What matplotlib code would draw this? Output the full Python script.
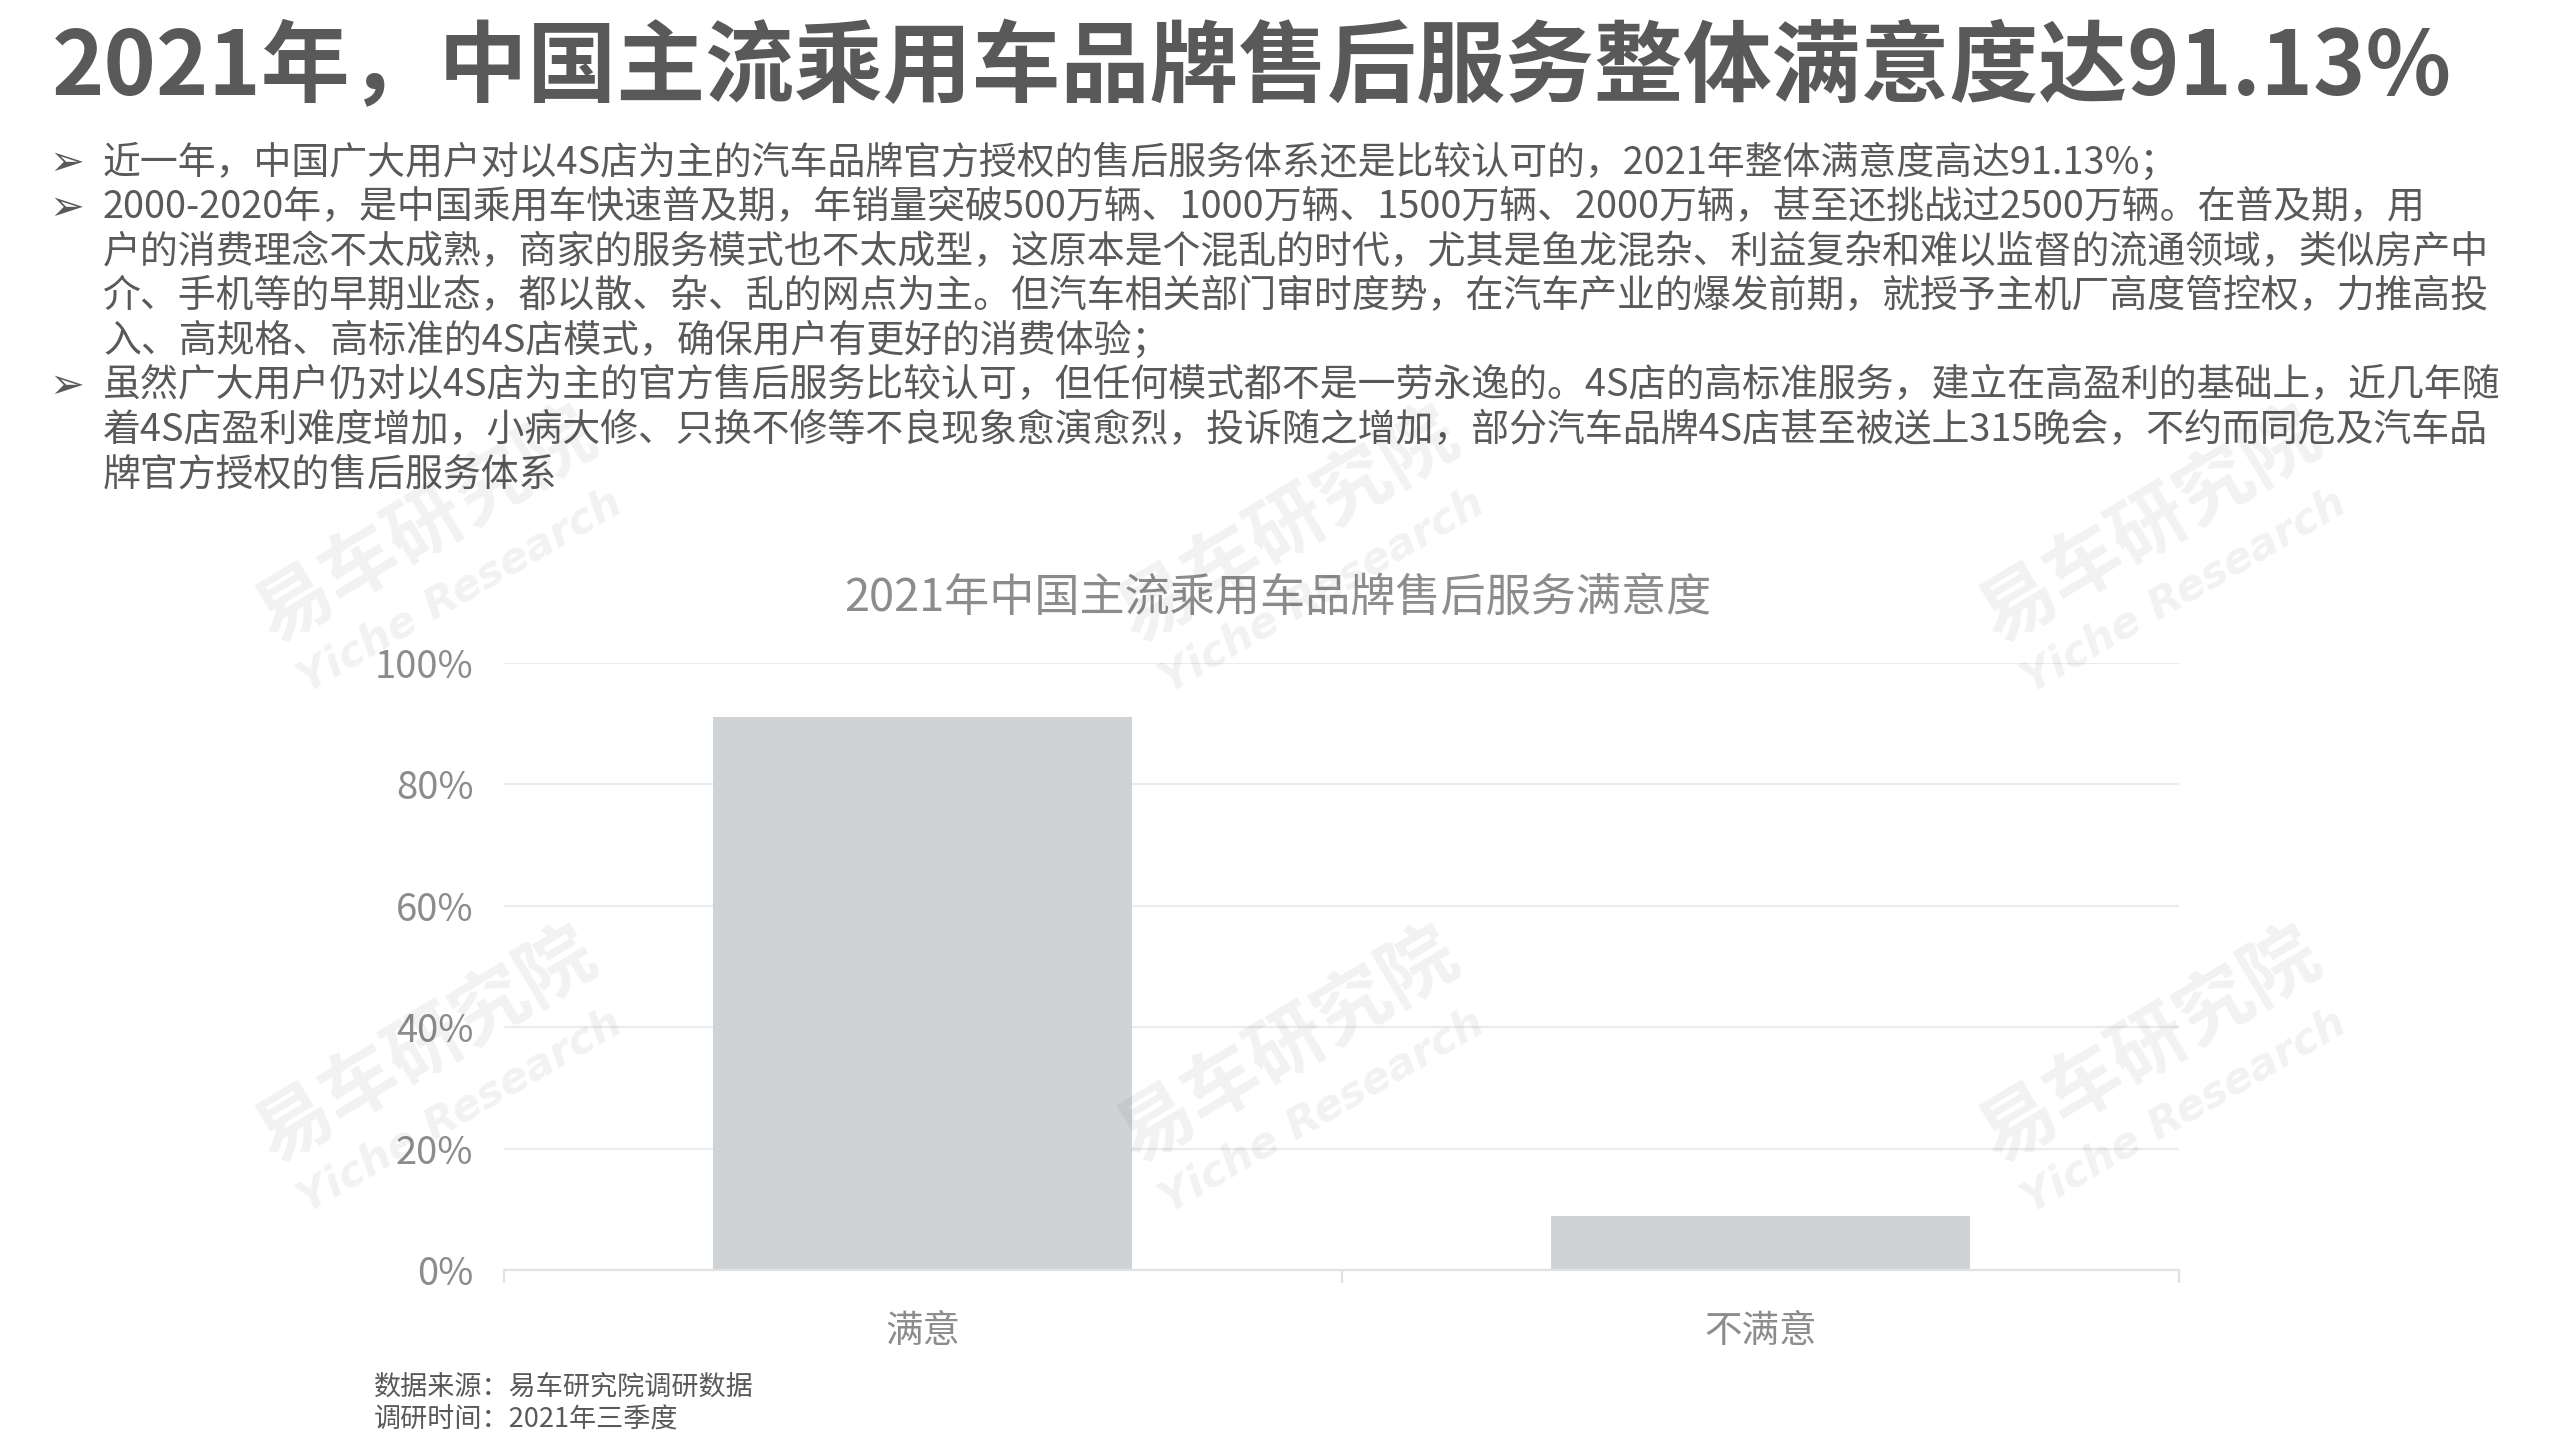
import matplotlib
matplotlib.use("Agg")
import matplotlib.pyplot as plt
from matplotlib.ticker import FuncFormatter, FixedLocator

plt.rcParams['font.family'] = ['Noto Sans CJK SC', 'DejaVu Sans']

# ---------------- data ----------------
categories = ['满意', '不满意']
values = [0.9113, 0.0887]
yticks = [0, 0.2, 0.4, 0.6, 0.8, 1.0]

page_title = '2021年，中国主流乘用车品牌售后服务整体满意度达91.13%'
chart_title = '2021年中国主流乘用车品牌售后服务满意度'
body_lines = [
    '近一年，中国广大用户对以4S店为主的汽车品牌官方授权的售后服务体系还是比较认可的，2021年整体满意度高达91.13%；',
    '2000-2020年，是中国乘用车快速普及期，年销量突破500万辆、1000万辆、1500万辆、2000万辆，甚至还挑战过2500万辆。在普及期，用',
    '户的消费理念不太成熟，商家的服务模式也不太成型，这原本是个混乱的时代，尤其是鱼龙混杂、利益复杂和难以监督的流通领域，类似房产中',
    '介、手机等的早期业态，都以散、杂、乱的网点为主。但汽车相关部门审时度势，在汽车产业的爆发前期，就授予主机厂高度管控权，力推高投',
    '入、高规格、高标准的4S店模式，确保用户有更好的消费体验；',
    '虽然广大用户仍对以4S店为主的官方售后服务比较认可，但任何模式都不是一劳永逸的。4S店的高标准服务，建立在高盈利的基础上，近几年随',
    '着4S店盈利难度增加，小病大修、只换不修等不良现象愈演愈烈，投诉随之增加，部分汽车品牌4S店甚至被送上315晚会，不约而同危及汽车品',
    '牌官方授权的售后服务体系',
]
bullet_rows = [0, 1, 5]
footnotes = ['数据来源：易车研究院调研数据', '调研时间：2021年三季度']

W, H = 2559, 1439
fig = plt.figure(figsize=(W / 100, H / 100), dpi=100)
fig.patch.set_facecolor('white')

def fx(px):
    return px / W

def fy(py):
    return 1 - py / H

# ---------------- page title ----------------
fig.text(fx(52), fy(69), page_title, fontsize=64, fontweight='bold',
         color='#595959', ha='left', va='center')

# ---------------- body text ----------------
line_y0 = 163
line_dy = 44.6
for i, line in enumerate(body_lines):
    y = line_y0 + i * line_dy
    if i in bullet_rows:
        fig.text(fx(49), fy(y), '➢', fontsize=30, color='#595959',
                 ha='left', va='center', family=['DejaVu Sans'])
    fig.text(fx(103), fy(y), line, fontsize=27.3, color='#595959',
             ha='left', va='center')

# ---------------- chart ----------------
ax = fig.add_axes([fx(504), fy(1270), fx(2179 - 504), (1270 - 663) / H])
x = list(range(len(categories)))
ax.bar(x, values, width=0.5, color='#CFD3D6', zorder=2)
ax.set_xlim(-0.5, len(categories) - 0.5)
ax.set_ylim(0, 1)
ax.set_yticks(yticks)
ax.yaxis.set_major_formatter(FuncFormatter(lambda v, p: f'{v * 100:.0f}%'))
ax.grid(axis='y', color='#EBEBEB', linewidth=1.6, zorder=0)
ax.set_axisbelow(True)
for s in ['top', 'right', 'left']:
    ax.spines[s].set_visible(False)
ax.spines['bottom'].set_color('#E2E2E2')
ax.spines['bottom'].set_linewidth(1.6)
ax.tick_params(axis='y', length=0, pad=22, labelsize=27.5, labelcolor='#8C8C8C')
ax.set_xticks(x)
ax.set_xticklabels(categories)
ax.tick_params(axis='x', which='major', length=0, pad=30, labelsize=27,
               labelcolor='#8C8C8C')
ax.xaxis.set_minor_locator(FixedLocator([-0.5, 0.5, 1.5]))
ax.tick_params(axis='x', which='minor', length=9, width=1.6, color='#E2E2E2')

fig.text(fx(1278), fy(598), chart_title, fontsize=32.5, color='#8C8C8C',
         ha='center', va='center')

# ---------------- footnotes ----------------
for i, t in enumerate(footnotes):
    fig.text(fx(374), fy(1387 + i * 33), t, fontsize=19.5, color='#595959',
             ha='left', va='center')

# ---------------- watermarks ----------------
for cx in [426, 426 + 862, 426 + 1724]:
    for cy in [1047 - 520, 1047]:
        fig.text(fx(cx), fy(cy), '易车研究院', fontsize=55, fontweight='bold',
                 color='black', alpha=0.055, rotation=31, ha='center',
                 va='center', rotation_mode='anchor', zorder=5)
        fig.text(fx(cx + 34), fy(cy + 64), 'Yiche Research', fontsize=31,
                 fontweight='bold', fontstyle='italic', color='black',
                 alpha=0.055, rotation=30, ha='center', va='center',
                 rotation_mode='anchor', family=['DejaVu Sans'], zorder=5)

fig.savefig('out.png', dpi=100, facecolor='white')
